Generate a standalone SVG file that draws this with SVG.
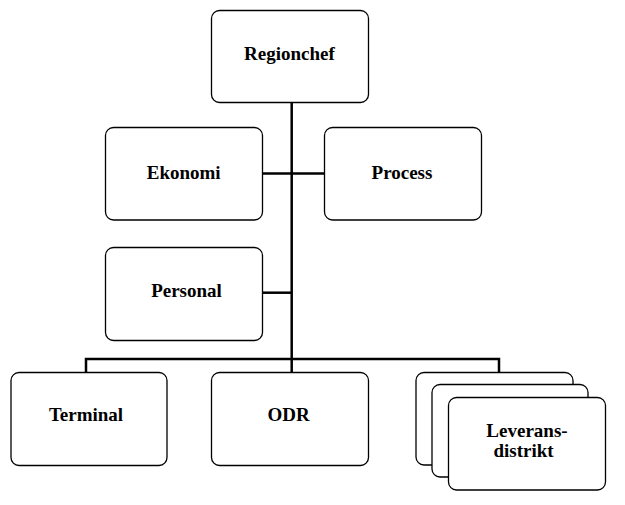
<svg xmlns="http://www.w3.org/2000/svg" width="625" height="505" viewBox="0 0 625 505">
<style>
.box{fill:#fff;stroke:#000;stroke-width:1.3}
.ln{fill:none;stroke:#000;stroke-width:2.5}
text{font-family:"Liberation Serif","Times New Roman",serif;font-weight:bold;font-size:19px;fill:#000;text-anchor:middle}
</style>
<rect width="625" height="505" fill="#fff"/>
<g id="connectors">
<line class="ln" x1="291.7" y1="103" x2="291.7" y2="359"/>
<line class="ln" x1="262.5" y1="173.5" x2="324" y2="173.5"/>
<line class="ln" x1="262.5" y1="292.7" x2="291.7" y2="292.7"/>
<polyline class="ln" points="86,372 86,359 499,359 499,372"/>
<line class="ln" x1="291.7" y1="359" x2="291.7" y2="372"/>
</g>
<g id="regionchef">
<rect class="box" x="211.5" y="10.5" width="157" height="92" rx="8"/>
<text x="289.5" y="60">Regionchef</text>
</g>
<g id="ekonomi">
<rect class="box" x="105.5" y="127.5" width="157" height="92.5" rx="8"/>
<text x="183.7" y="178.5">Ekonomi</text>
</g>
<g id="process">
<rect class="box" x="324.5" y="127.5" width="157" height="92.5" rx="8"/>
<text x="402" y="178.5">Process</text>
</g>
<g id="personal">
<rect class="box" x="105.5" y="247.5" width="157" height="93" rx="8"/>
<text x="186.5" y="297">Personal</text>
</g>
<g id="terminal">
<rect class="box" x="11" y="372.5" width="156" height="93" rx="8"/>
<text x="86" y="421">Terminal</text>
</g>
<g id="odr">
<rect class="box" x="211.5" y="372.5" width="157" height="93" rx="8"/>
<text x="288.5" y="421">ODR</text>
</g>
<g id="leveransdistrikt">
<rect class="box" x="416" y="372.5" width="157" height="92.5" rx="8"/>
<rect class="box" x="432" y="384.5" width="156" height="92.5" rx="8"/>
<rect class="box" x="448.5" y="397.5" width="157" height="92.5" rx="8"/>
<text x="527" y="437">Leverans-</text>
<text x="523.5" y="457">distrikt</text>
</g>
</svg>
